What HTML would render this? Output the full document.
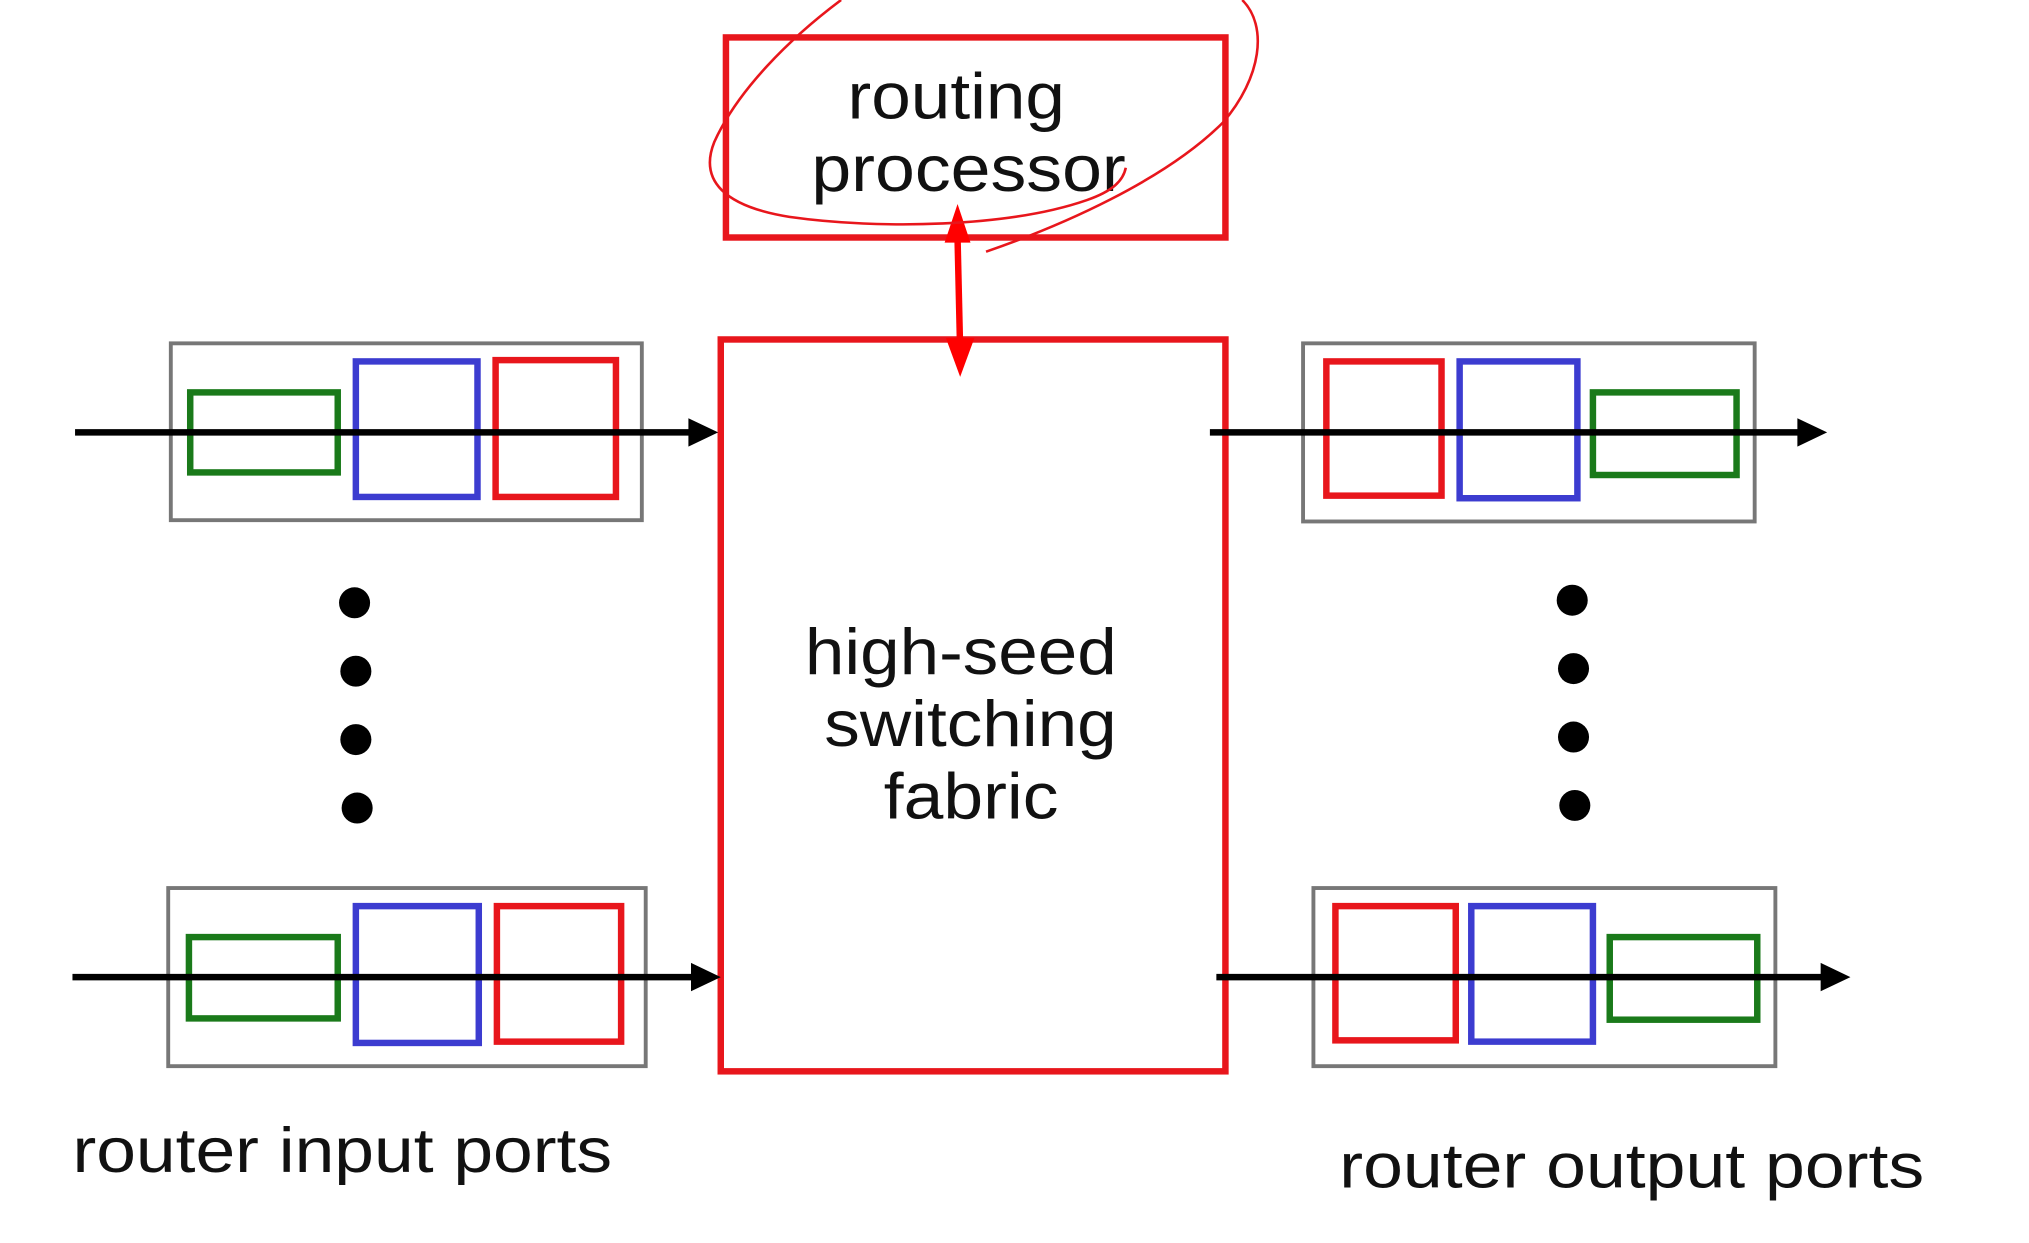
<!DOCTYPE html>
<html><head><meta charset="utf-8"><style>
html,body{margin:0;padding:0;background:#fff;}
svg{display:block;}
text{font-family:"Liberation Sans",Arial,sans-serif;fill:#111;}
</style></head><body>
<svg width="2029" height="1243" viewBox="0 0 1568 963" preserveAspectRatio="none" xmlns="http://www.w3.org/2000/svg">
<rect width="1568" height="963" fill="#fff"/>
<!-- routing processor -->
<rect x="561" y="29" width="386" height="155" fill="none" stroke="#e8161c" stroke-width="5"/>
<text x="655" y="92" font-size="50" textLength="168" lengthAdjust="spacingAndGlyphs">routing</text>
<text x="627" y="148" font-size="50" textLength="243" lengthAdjust="spacingAndGlyphs">processor</text>
<!-- fabric -->
<rect x="557" y="263" width="390" height="567" fill="none" stroke="#e8161c" stroke-width="5"/>
<text x="622" y="522" font-size="50" textLength="241" lengthAdjust="spacingAndGlyphs">high-seed</text>
<text x="637" y="578" font-size="50" textLength="226" lengthAdjust="spacingAndGlyphs">switching</text>
<text x="683" y="634" font-size="50" textLength="135" lengthAdjust="spacingAndGlyphs">fabric</text>
<!-- double arrow -->
<line x1="740" y1="185" x2="742" y2="272" stroke="#ff0000" stroke-width="5"/>
<polygon points="740,158 730,188 750,188" fill="#ff0000"/>
<polygon points="742,292 731,262 753,262" fill="#ff0000"/>
<!-- hand drawn circle -->
<path d="M650,0 C610,30 570,70 552,110 C540,140 560,160 610,168 C680,178 780,176 840,155 C860,148 868,140 870,130 M762,195 C820,175 900,140 945,95 C975,60 980,20 960,0" fill="none" stroke="#e8161c" stroke-width="2"/>
<!-- input ports top -->
<rect x="132" y="266" width="364" height="137" fill="none" stroke="#777" stroke-width="3"/>
<rect x="147" y="304" width="114" height="62" fill="none" stroke="#1a7a1a" stroke-width="5"/>
<rect x="275" y="280" width="94" height="105" fill="none" stroke="#3c3cd0" stroke-width="5"/>
<rect x="383" y="279" width="93" height="106" fill="none" stroke="#e8161c" stroke-width="5"/>
<line x1="58" y1="335" x2="535" y2="335" stroke="#000" stroke-width="5"/>
<polygon points="555,335 532,324 532,346" fill="#000"/>
<!-- input ports bottom -->
<rect x="130" y="688" width="369" height="138" fill="none" stroke="#777" stroke-width="3"/>
<rect x="146" y="726" width="115" height="63" fill="none" stroke="#1a7a1a" stroke-width="5"/>
<rect x="275" y="702" width="95" height="106" fill="none" stroke="#3c3cd0" stroke-width="5"/>
<rect x="384" y="702" width="96" height="105" fill="none" stroke="#e8161c" stroke-width="5"/>
<line x1="56" y1="757" x2="537" y2="757" stroke="#000" stroke-width="5"/>
<polygon points="557,757 534,746 534,768" fill="#000"/>
<!-- output ports top -->
<rect x="1007" y="266" width="349" height="138" fill="none" stroke="#777" stroke-width="3"/>
<rect x="1025" y="280" width="89" height="104" fill="none" stroke="#e8161c" stroke-width="5"/>
<rect x="1128" y="280" width="91" height="106" fill="none" stroke="#3c3cd0" stroke-width="5"/>
<rect x="1231" y="304" width="111" height="64" fill="none" stroke="#1a7a1a" stroke-width="5"/>
<line x1="935" y1="335" x2="1392" y2="335" stroke="#000" stroke-width="5"/>
<polygon points="1412,335 1389,324 1389,346" fill="#000"/>
<!-- output ports bottom -->
<rect x="1015" y="688" width="357" height="138" fill="none" stroke="#777" stroke-width="3"/>
<rect x="1032" y="702" width="93" height="104" fill="none" stroke="#e8161c" stroke-width="5"/>
<rect x="1137" y="702" width="94" height="105" fill="none" stroke="#3c3cd0" stroke-width="5"/>
<rect x="1244" y="726" width="114" height="64" fill="none" stroke="#1a7a1a" stroke-width="5"/>
<line x1="940" y1="757" x2="1410" y2="757" stroke="#000" stroke-width="5"/>
<polygon points="1430,757 1407,746 1407,768" fill="#000"/>
<!-- dots -->
<g fill="#000">
<circle cx="274" cy="467" r="12"/><circle cx="275" cy="520" r="12"/><circle cx="275" cy="573" r="12"/><circle cx="276" cy="626" r="12"/>
<circle cx="1215" cy="465" r="12"/><circle cx="1216" cy="518" r="12"/><circle cx="1216" cy="571" r="12"/><circle cx="1217" cy="624" r="12"/>
</g>
<text x="56" y="908" font-size="49" textLength="417" lengthAdjust="spacingAndGlyphs">router input ports</text>
<text x="1035" y="920" font-size="49" textLength="452" lengthAdjust="spacingAndGlyphs">router output ports</text>
</svg>
</body></html>
